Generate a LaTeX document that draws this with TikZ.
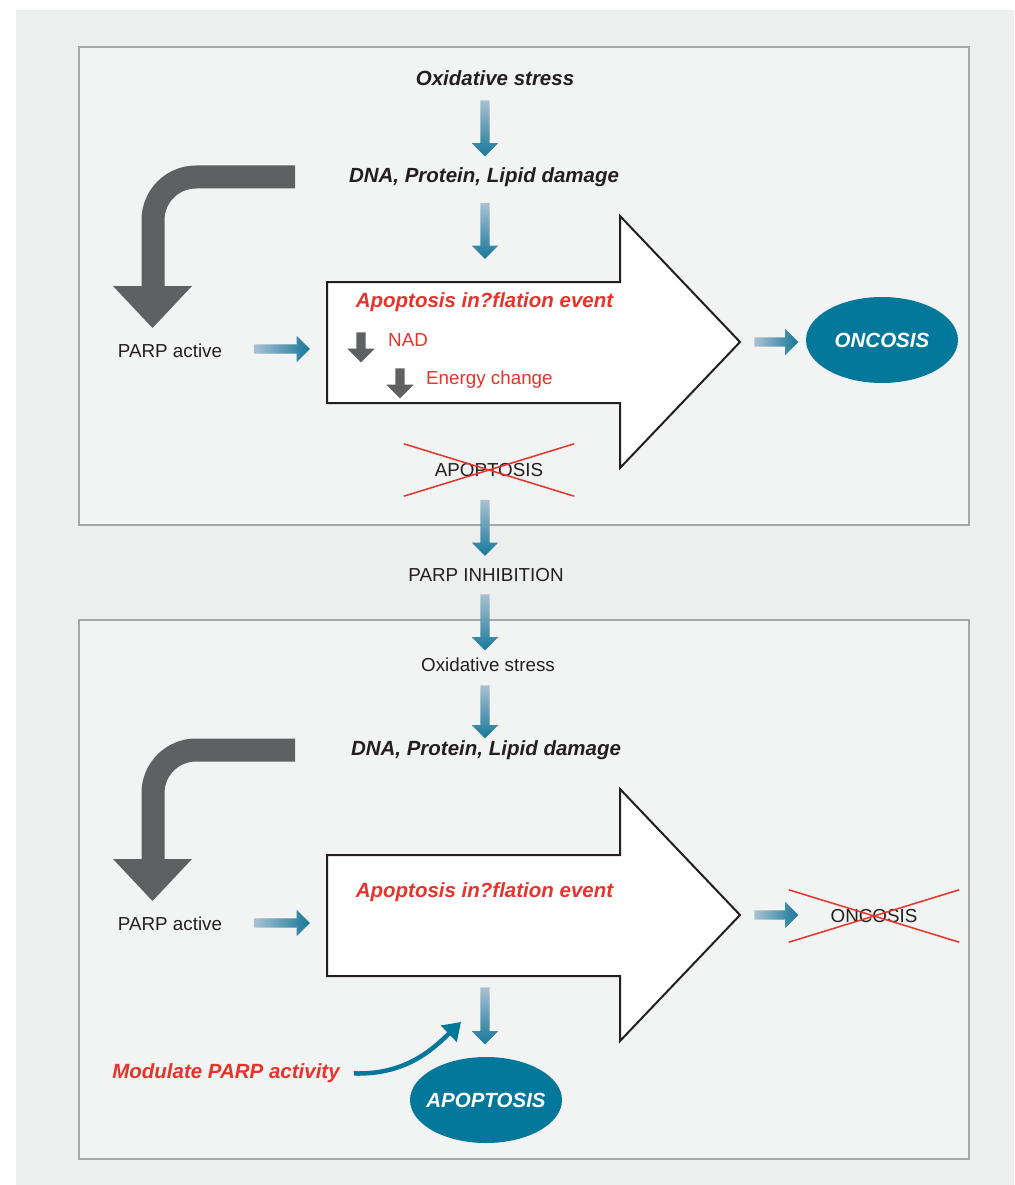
\documentclass[tikz,border=0pt]{standalone}
\usepackage{fontspec}
\setmainfont{Liberation Sans}
\usetikzlibrary{shapes.geometric, shapes.arrows, arrows.meta, positioning}
\definecolor{PageGrey}{HTML}{EDEEEE}
\definecolor{PanelGrey}{HTML}{F2F3F3}
\definecolor{FrameGrey}{HTML}{A5A7A9}
\definecolor{InkGrey}{HTML}{231F20}
\definecolor{BendGrey}{HTML}{5F6062}
\definecolor{AlertRed}{HTML}{E8332B}
\definecolor{CellTeal}{HTML}{04789A}
\definecolor{ArrowLight}{HTML}{A9C1D2}
\definecolor{ArrowDark}{HTML}{17789A}

\begin{document}
\begin{tikzpicture}[x=1pt, y=-1pt, every node/.style={inner sep=0pt}]
    \tikzstyle{panel} = [draw=FrameGrey, line width=1.5pt, fill=PanelGrey]
    \tikzstyle{plain} = [font=\fontsize{18.8}{22}\selectfont, text=InkGrey]
    \tikzstyle{strong} = [font=\fontsize{20.5}{24}\selectfont\bfseries\itshape, text=InkGrey]
    \tikzstyle{alert} = [strong, text=AlertRed]
    \tikzstyle{note} = [plain, text=AlertRed]
    \tikzstyle{flow} = [single arrow, draw=none, inner xsep=0pt, inner ysep=4.5pt, single arrow head extend=8.5pt, minimum height=56pt, left color=ArrowLight, right color=ArrowDark]
    \tikzstyle{flowdown} = [single arrow, draw=none, rotate=-90, inner xsep=0pt, inner ysep=4.5pt, single arrow head extend=8.5pt, minimum height=56pt, top color=ArrowLight, bottom color=ArrowDark]
    \tikzstyle{drop} = [single arrow, draw=none, fill=BendGrey, rotate=-90, inner xsep=0pt, inner ysep=4.5pt, single arrow head extend=9pt, minimum height=30pt]
    \tikzstyle{cell} = [ellipse, fill=CellTeal, minimum width=152pt, minimum height=86pt]
    \tikzstyle{celltext} = [strong, text=white]
    \tikzstyle{crossed} = [plain, minimum width=170pt, minimum height=52pt]
    \tikzstyle{strike} = [draw=AlertRed, line width=1.5pt]
    \tikzstyle{turnband} = [draw=BendGrey, line width=23pt, rounded corners=43pt]
    \tikzstyle{bigarrow} = [draw=InkGrey, line width=2pt, fill=white]

    % page and panels
    \useasboundingbox (0,0) rectangle (1014,1185);
    \fill[white] (0,0) rectangle (1014,1185);
    \fill[PageGrey] (16,10) rectangle (1014,1185);
    \draw[panel] (79,47) rectangle (969,525);
    \draw[panel] (79,620) rectangle (969,1159);

    % ---- upper panel: PARP active ----
    \draw[bigarrow] (327,282) -- (620,282) -- (620,216) -- (740,342) -- (620,468) -- (620,403) -- (327,403) -- cycle;
    \draw[turnband] (295,177) -- (153,177) -- (153,287);
    \fill[BendGrey] (113,286) -- (192,286) -- (152.5,328) -- cycle;

    \node[strong] (ox1) at (495,78) {Oxidative stress};
    \node[flowdown] (ox1dmg) at (485,126) {};
    \node[strong] (dmg1) at (484,177) {DNA, Protein, Lipid damage};
    \node[flowdown] (dmg1ev) at (485,228.5) {};
    \node[alert] (ev1) at (484.5,302) {Apoptosis in?flation event};
    \node[drop] (nadarr) at (361,345) {};
    \node[note, anchor=west] (nad) at (388,340) {NAD};
    \node[drop] (enarr) at (400,381) {};
    \node[note, anchor=west] (energy) at (426,380) {Energy change};
    \node[plain] (parp1) at (170,351) {PARP active};
    \node[flow] (parp1ev) at (279.5,349) {};
    \node[flow, minimum height=44pt] (ev1onc) at (774,342) {};
    \node[cell, label={[celltext]center:ONCOSIS}] (onc1) at (882,340) {};
    \node[crossed] (apo1) at (489,470) {APOPTOSIS};
    \draw[strike] (apo1.north west) -- (apo1.south east);
    \draw[strike] (apo1.south west) -- (apo1.north east);

    % ---- between panels ----
    \node[flowdown] (apoinh) at (485,525.5) {};
    \node[plain] (inh) at (486,575) {PARP INHIBITION};
    \node[flowdown] (inhox) at (485,620) {};

    % ---- lower panel: PARP inhibited ----
    \draw[bigarrow] (327,855) -- (620,855) -- (620,789) -- (740,915) -- (620,1041) -- (620,976) -- (327,976) -- cycle;
    \draw[turnband] (295,750) -- (153,750) -- (153,860);
    \fill[BendGrey] (113,859) -- (192,859) -- (152.5,901) -- cycle;

    \node[plain] (ox2) at (488,665) {Oxidative stress};
    \node[flowdown, minimum height=53pt] (ox2dmg) at (485,709.5) {};
    \node[strong] (dmg2) at (486,750) {DNA, Protein, Lipid damage};
    \node[alert] (ev2) at (484.5,892) {Apoptosis in?flation event};
    \node[plain] (parp2) at (170,924) {PARP active};
    \node[flow] (parp2ev) at (279.5,923) {};
    \node[flow, minimum height=44pt] (ev2onc) at (774,915) {};
    \node[crossed] (onc2) at (874,916) {ONCOSIS};
    \draw[strike] (onc2.north west) -- (onc2.south east);
    \draw[strike] (onc2.south west) -- (onc2.north east);
    \node[flowdown, minimum height=57pt] (ev2apo) at (485,1013.5) {};
    \node[cell, label={[celltext]center:APOPTOSIS}] (apo2) at (486,1100) {};
    \node[alert] (mod) at (226,1073) {Modulate PARP activity};
    \coordinate (modtip) at (461,1022);
    \draw[CellTeal, line width=4.5pt, shorten <=14pt, -{Triangle[width=22pt,length=17pt]}] (mod.east) .. controls (405,1075) and (432,1050) .. (modtip);
\end{tikzpicture}
\end{document}
